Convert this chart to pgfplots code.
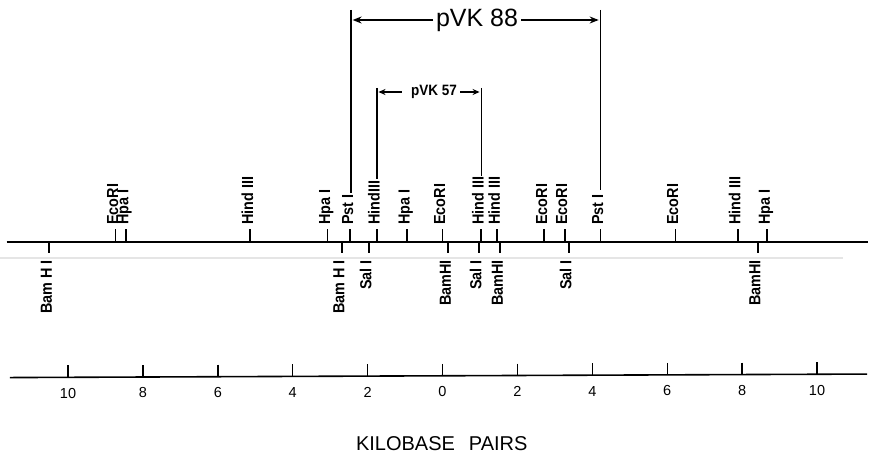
\documentclass[border=0pt]{standalone}
\usepackage{fontspec}
\setmainfont{Liberation Sans}
\newfontfamily\labfont[FakeStretch=0.9]{Liberation Sans}
\usepackage{pgfplots}
\usepackage{pgfplotstable}
\pgfplotsset{compat=1.18}
\usetikzlibrary{arrows.meta}

% restriction sites, position in kb (0 = central EcoRI)
\pgfplotstableread[col sep=comma]{
x,lab
-8.73,EcoRI
-8.46,Hpa I
-5.13,Hind III
-3.07,Hpa I
-2.46,Pst I
-1.75,HindIII
-0.95,Hpa I
0.00,EcoRI
1.03,Hind III
1.46,Hind III
2.72,EcoRI
3.26,EcoRI
4.22,Pst I
6.22,EcoRI
7.88,Hind III
8.67,Hpa I
}\sitesup
\pgfplotstableread[col sep=comma]{
x,lab
-10.50,Bam H I
-2.69,Bam H I
-1.97,Sal I
0.15,BamHI
0.97,Sal I
1.54,BamHI
3.37,Sal I
8.42,BamHI
}\sitesdown
% kilobase scale: tick position, tick centre, label centre
\pgfplotstableread[col sep=comma]{
x,yt,yl,lab
-10,371.3,393.3,10
-8,371.0,393.0,8
-6,370.7,392.7,6
-4,370.4,392.4,4
-2,370.1,392.1,2
0,369.8,391.8,0
2,369.5,391.5,2
4,369.2,391.2,4
6,368.9,390.9,6
8,368.6,390.6,8
10,368.2,390.2,10
}\kbscale

\tikzset{sitelab/.style={font=\labfont\bfseries\fontsize{16bp}{16bp}\selectfont, text=black, rotate=90, inner sep=0pt}}

\begin{document}
\begin{tikzpicture}
\begin{axis}[
  width=870bp, height=456bp, scale only axis,
  xmin=-11.816, xmax=11.415, ymin=0, ymax=456, y dir=reverse,
  hide axis, clip=false,
]
% faint scan line under the map
\addplot[black!10, line width=1.2bp] coordinates {(-11.816,258) (10.69,258)};
% main map line
\addplot[black, line width=2.4bp] coordinates {(-11.64,241.7) (11.36,241.7)};
% sites above
\addplot[black, only marks, mark=|, mark size=6.3bp, mark options={line width=1.8bp}]
  table[x=x, y expr=235.3] {\sitesup};
\addplot[draw=none, mark=none, point meta=explicit symbolic, nodes near coords,
  every node near coord/.style={sitelab, anchor=mid west}]
  table[x=x, y expr=225, meta=lab] {\sitesup};
% sites below
\addplot[black, only marks, mark=|, mark size=5.8bp, mark options={line width=1.8bp}]
  table[x=x, y expr=247.5] {\sitesdown};
\addplot[draw=none, mark=none, point meta=explicit symbolic, nodes near coords,
  every node near coord/.style={sitelab, anchor=mid east}]
  table[x=x, y expr=260, meta=lab] {\sitesdown};
% pVK 88 bracket
\addplot[black, line width=1.8bp] coordinates {(-2.451,10) (-2.451,193)};
\addplot[black, line width=1.8bp] coordinates {(4.219,10) (4.219,190)};
\addplot[black, line width=1.6bp, -{Stealth[length=9bp,width=7bp]}] coordinates {(-0.25,20) (-2.40,20)};
\addplot[black, line width=1.6bp, -{Stealth[length=9bp,width=7bp]}] coordinates {(2.10,20) (4.17,20)};
\node[font=\fontsize{25bp}{25bp}\selectfont, inner sep=0pt] at (axis cs:0.921,20) {pVK 88};
% pVK 57 bracket
\addplot[black, line width=1.8bp] coordinates {(-1.757,88) (-1.757,179)};
\addplot[black, line width=1.8bp] coordinates {(1.041,88) (1.041,176)};
\addplot[black, line width=1.5bp, -{Stealth[length=7bp,width=6bp]}] coordinates {(-1.09,92) (-1.71,92)};
\addplot[black, line width=1.5bp, -{Stealth[length=7bp,width=6bp]}] coordinates {(0.47,92) (0.99,92)};
\node[font=\labfont\bfseries\fontsize{15bp}{15bp}\selectfont, inner sep=0pt] at (axis cs:-0.227,92) {pVK 57};
% kilobase scale
\addplot[black, line width=1.6bp] coordinates {(-11.55,377.56) (11.34,374.05)};
\addplot[black, only marks, mark=|, mark size=6bp, mark options={line width=1.4bp}]
  table[x=x, y=yt] {\kbscale};
\addplot[draw=none, mark=none, point meta=explicit symbolic, nodes near coords,
  every node near coord/.style={font=\fontsize{14.5bp}{14.5bp}\selectfont, text=black, anchor=center, inner sep=0pt}]
  table[x=x, y=yl, meta=lab] {\kbscale};
\node[font=\fontsize{20bp}{20bp}\selectfont, inner sep=0pt] at (axis cs:-0.02,443.7) {KILOBASE\hspace{14bp}PAIRS};
\end{axis}
\pgfresetboundingbox
\useasboundingbox (current axis.south west) rectangle (current axis.north east);
\end{tikzpicture}
\end{document}
